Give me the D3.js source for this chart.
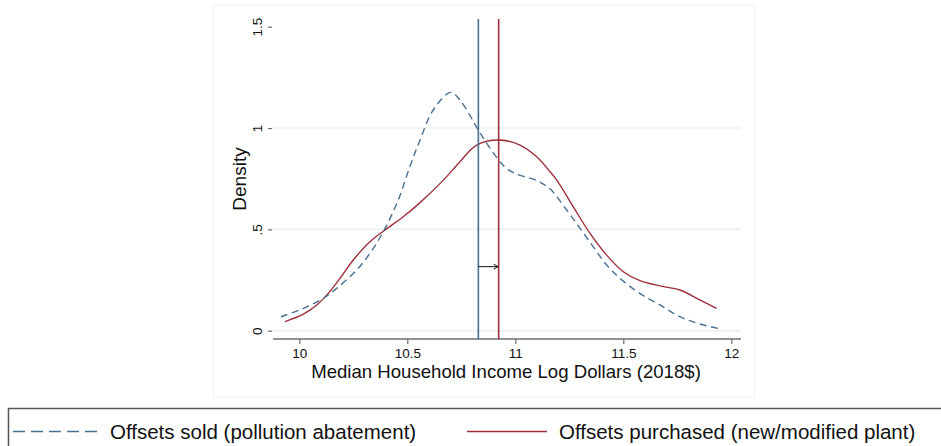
<!DOCTYPE html>
<html>
<head>
<meta charset="utf-8">
<script src="https://cdn.jsdelivr.net/npm/d3@7"></script>
<style>
  html, body { margin: 0; padding: 0; background: #fff; }
  svg { display: block; font-family: "Liberation Sans", Arial, Helvetica, sans-serif; }
</style>
</head>
<body>
<svg id="chart" width="941" height="446"></svg>
<script>
// ---- Data ----
const xTicks = [10, 10.5, 11, 11.5, 12];
const xTickLabels = ["10", "10.5", "11", "11.5", "12"];
const yTicks = [0, 0.5, 1, 1.5];
const yTickLabels = ["0", ".5", "1", "1.5"];
const yGrid = [0, 0.5, 1];

// Offsets sold (pollution abatement) — kernel density
const soldX = [9.915, 10.019, 10.111, 10.173, 10.266, 10.327, 10.389, 10.458, 10.512, 10.559, 10.620, 10.701, 10.744, 10.829, 10.868, 10.929, 10.960, 11.006, 11.083, 11.114, 11.161, 11.238, 11.300, 11.361, 11.423, 11.485, 11.577, 11.670, 11.762, 11.855, 11.955];
const soldY = [0.069, 0.110, 0.160, 0.209, 0.300, 0.382, 0.489, 0.645, 0.810, 0.941, 1.089, 1.176, 1.138, 0.990, 0.924, 0.834, 0.800, 0.773, 0.748, 0.733, 0.700, 0.595, 0.505, 0.414, 0.324, 0.258, 0.184, 0.127, 0.069, 0.033, 0.008];

// Offsets purchased (new/modified plant) — kernel density
const purchX = [9.934, 10.019, 10.081, 10.134, 10.188, 10.250, 10.327, 10.397, 10.481, 10.559, 10.667, 10.744, 10.821, 10.921, 11.022, 11.099, 11.161, 11.192, 11.268, 11.346, 11.423, 11.500, 11.577, 11.670, 11.762, 11.840, 11.932];
const purchY = [0.045, 0.082, 0.127, 0.184, 0.258, 0.349, 0.439, 0.497, 0.562, 0.632, 0.743, 0.834, 0.916, 0.941, 0.916, 0.858, 0.784, 0.743, 0.612, 0.480, 0.373, 0.291, 0.247, 0.221, 0.201, 0.160, 0.110];

// Means (vertical lines) and arrow height
const meanSold = 10.829;
const meanPurch = 10.923;
const arrowY = 0.316;

const seriesNames = ["Offsets sold (pollution abatement)", "Offsets purchased (new/modified plant)"];
const xTitle = "Median Household Income Log Dollars (2018$)";
const yTitle = "Density";

// ---- Layout ----
const blue = "#48708f";
const red = "#9e2f3a";
const svg = d3.select("#chart");

const plotLeft = 273, plotRight = 741, plotTop = 19, axisY = 339;

const x = d3.scaleLinear().domain([10, 12]).range([299.3, 731.3]);
const y = d3.scaleLinear().domain([0, 1.5]).range([330.7, 26.7]);

// outer graph region box
svg.append("rect").attr("x", 213.5).attr("y", 5.5).attr("width", 541).attr("height", 392)
  .attr("fill", "none").attr("stroke", "#f4f4f4").attr("stroke-width", 1);

// gridlines
svg.append("g").selectAll("line").data(yGrid).join("line")
  .attr("x1", plotLeft).attr("x2", plotRight)
  .attr("y1", d => y(d)).attr("y2", d => y(d))
  .attr("stroke", "#eaf0f2").attr("stroke-width", 1.5);

// x axis
const xAxis = d3.axisBottom(x).tickValues(xTicks)
  .tickFormat((d, i) => xTickLabels[i]).tickSize(5).tickSizeOuter(0).tickPadding(4);
const gx = svg.append("g").attr("transform", `translate(0,${axisY})`).call(xAxis);
gx.select(".domain").remove();
gx.append("line").attr("x1", plotLeft).attr("x2", plotRight).attr("y1", 0).attr("y2", 0)
  .attr("stroke", "#6e6e6e").attr("stroke-width", 1.5);
gx.selectAll(".tick line").attr("stroke", "#6e6e6e").attr("stroke-width", 1.2);
gx.selectAll(".tick text").attr("font-size", "13.5px").attr("fill", "#111")
  .attr("font-family", "Liberation Sans, Arial, sans-serif");

// y axis (ticks only, no line)
const yAxis = d3.axisLeft(y).tickValues(yTicks)
  .tickFormat((d, i) => yTickLabels[i]).tickSize(4).tickSizeOuter(0).tickPadding(6);
const gy = svg.append("g").attr("transform", `translate(272,0)`).call(yAxis);
gy.select(".domain").remove();
gy.selectAll(".tick line").attr("stroke", "#6e6e6e").attr("stroke-width", 1.2);
gy.selectAll(".tick text").attr("font-size", "13.5px").attr("fill", "#111")
  .attr("font-family", "Liberation Sans, Arial, sans-serif")
  .attr("text-anchor", "middle").attr("dy", 0).attr("x", 0)
  .attr("transform", "translate(-10.5,0) rotate(-90)");

// axis titles
svg.append("text").attr("x", 506).attr("y", 377.5).attr("text-anchor", "middle")
  .attr("font-size", "18.6px").attr("fill", "#111").text(xTitle);
svg.append("text").attr("transform", "translate(246,179) rotate(-90)").attr("text-anchor", "middle")
  .attr("font-size", "19px").attr("fill", "#111").text(yTitle);

// density curves
const line = d3.line().x(d => x(d[0])).y(d => y(d[1])).curve(d3.curveCatmullRom.alpha(0.5));
svg.append("path").datum(d3.zip(purchX, purchY)).attr("d", line)
  .attr("fill", "none").attr("stroke", red).attr("stroke-width", 1.4);
svg.append("path").datum(d3.zip(soldX, soldY)).attr("d", line)
  .attr("fill", "none").attr("stroke", blue).attr("stroke-width", 1.4)
  .attr("stroke-dasharray", "7,4.5");

// mean lines
svg.append("line").attr("x1", x(meanSold)).attr("x2", x(meanSold)).attr("y1", plotTop).attr("y2", axisY)
  .attr("stroke", blue).attr("stroke-width", 1.6);
svg.append("line").attr("x1", x(meanPurch)).attr("x2", x(meanPurch)).attr("y1", plotTop).attr("y2", axisY)
  .attr("stroke", red).attr("stroke-width", 1.6);

// arrow
const ay = y(arrowY);
svg.append("line").attr("x1", x(meanSold)).attr("x2", x(meanPurch) - 1).attr("y1", ay).attr("y2", ay)
  .attr("stroke", "#111").attr("stroke-width", 1);
svg.append("path")
  .attr("d", `M${x(meanPurch) - 5},${ay - 2.5} L${x(meanPurch) - 0.5},${ay} L${x(meanPurch) - 5},${ay + 2.5}`)
  .attr("fill", "none").attr("stroke", "#111").attr("stroke-width", 1);

// legend
svg.append("rect").attr("x", 8.5).attr("y", 408.5).attr("width", 960).attr("height", 60)
  .attr("fill", "none").attr("stroke", "#555").attr("stroke-width", 1.5);
svg.append("line").attr("x1", 13).attr("x2", 97).attr("y1", 431.5).attr("y2", 431.5)
  .attr("stroke", blue).attr("stroke-width", 1.5).attr("stroke-dasharray", "12,6");
svg.append("text").attr("x", 110).attr("y", 438.5).attr("font-size", "20.5px").attr("fill", "#111")
  .text(seriesNames[0]);
svg.append("line").attr("x1", 467).attr("x2", 547).attr("y1", 431.5).attr("y2", 431.5)
  .attr("stroke", red).attr("stroke-width", 1.5);
svg.append("text").attr("x", 559).attr("y", 438.5).attr("font-size", "20.5px").attr("fill", "#111")
  .text(seriesNames[1]);
</script>
</body>
</html>
